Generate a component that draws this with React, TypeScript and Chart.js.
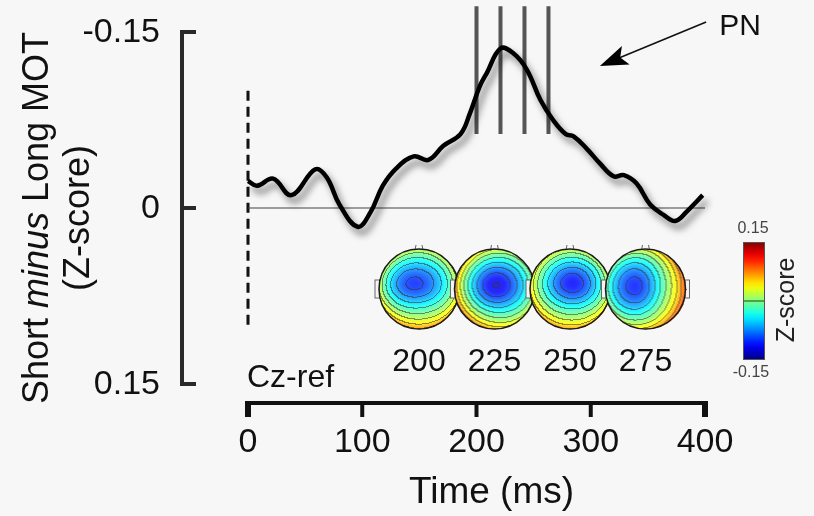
import { useEffect, useRef } from 'react';
import { Chart, registerables } from 'chart.js';

Chart.register(...registerables);

// Grand-average difference wave at Cz (Short minus Long MOT), z-scored
const timeMs = [0, 8, 22, 38, 59, 69, 80, 96, 107, 118, 130, 145, 158, 171, 186, 194, 203, 209, 221, 232, 244, 256, 267, 278, 285, 297, 308, 320, 329, 340, 352, 364, 374, 384, 398];
const zDiff = [-0.023, -0.019, -0.025, -0.011, -0.033, -0.026, -0.003, 0.016, 0.004, -0.019, -0.034, -0.044, -0.041, -0.053, -0.063, -0.08, -0.104, -0.115, -0.136, -0.132, -0.118, -0.092, -0.075, -0.063, -0.061, -0.05, -0.038, -0.027, -0.028, -0.021, -0.003, 0.006, 0.011, 0.003, -0.011];

// Latencies marked with vertical bars, and the span they cover
const markerTimes = [200, 221, 242, 263];
const markerSpan = [-0.172, -0.063];

// Stimulus onset (dashed) span
const onsetSpan = [-0.1, 0.1];

// Axis ticks
const xTicks = [0, 100, 200, 300, 400];
const yTicks = [-0.15, 0, 0.15];
const yTickLabels = ['-0.15', '0', '0.15'];

// Scalp maps at selected latencies: negative focus position, depth, spread, and gradient tilt
const mapLabels = ['200', '225', '250', '275'];
const focusU = [-0.12, -0.03, 0.04, -0.2];
const focusV = [-0.1, -0.08, -0.12, -0.06];
const focusDepth = [0.1, 0.12, 0.11, 0.095];
const spreadU = [0.58, 0.5, 0.5, 0.44];
const spreadV = [0.42, 0.44, 0.42, 0.48];
const tiltU = [0.0, -0.03, -0.005, 0.045];
const tiltV = [0.025, 0.015, 0.02, 0.01];

const colorbarMax = '0.15';
const colorbarMin = '-0.15';

const FONT = '"Liberation Sans", Arial, Helvetica, sans-serif';

function clamp01(v: number) {
  return Math.max(0, Math.min(1, v));
}

function jet(t: number): [number, number, number] {
  const r = clamp01(1.5 - Math.abs(4 * t - 3));
  const g = clamp01(1.5 - Math.abs(4 * t - 2));
  const b = clamp01(1.5 - Math.abs(4 * t - 1));
  return [Math.round(r * 255), Math.round(g * 255), Math.round(b * 255)];
}

function renderTopo(i: number, radius: number): HTMLCanvasElement {
  const D = radius * 2 + 1;
  const cv = document.createElement('canvas');
  cv.width = D;
  cv.height = D;
  const c = cv.getContext('2d')!;
  const img = c.createImageData(D, D);
  const levels = new Int32Array(D * D);
  const vals = new Float32Array(D * D);
  const inside = new Uint8Array(D * D);
  for (let py = 0; py < D; py++) {
    for (let px = 0; px < D; px++) {
      const u = (px - radius) / radius;
      const v = (py - radius) / radius;
      const r2 = u * u + v * v;
      const k = py * D + px;
      if (r2 > 1) continue;
      inside[k] = 1;
      const du = (u - focusU[i]) / spreadU[i];
      const dv = (v - focusV[i]) / spreadV[i];
      const f =
        0.0 + 0.055 * r2 * r2 + tiltU[i] * u + tiltV[i] * v -
        focusDepth[i] * Math.exp(-(du * du + dv * dv) / 2);
      vals[k] = f;
      levels[k] = Math.floor(f / 0.024);
    }
  }
  for (let py = 0; py < D; py++) {
    for (let px = 0; px < D; px++) {
      const k = py * D + px;
      if (!inside[k]) continue;
      const t = clamp01((vals[k] + 0.15) / 0.3);
      let [r, g, b] = jet(t);
      // pale, slightly washed rendering
      r = Math.round(r * 0.85 + 255 * 0.15);
      g = Math.round(g * 0.85 + 255 * 0.15);
      b = Math.round(b * 0.85 + 255 * 0.15);
      let edge = false;
      if (px + 1 < D && inside[k + 1] && levels[k + 1] !== levels[k]) edge = true;
      if (py + 1 < D && inside[k + D] && levels[k + D] !== levels[k]) edge = true;
      if (edge) {
        r = Math.round(r * 0.45 + 50 * 0.55);
        g = Math.round(g * 0.45 + 50 * 0.55);
        b = Math.round(b * 0.45 + 50 * 0.55);
      }
      img.data[k * 4] = r;
      img.data[k * 4 + 1] = g;
      img.data[k * 4 + 2] = b;
      img.data[k * 4 + 3] = 255;
    }
  }
  c.putImageData(img, 0, 0);
  return cv;
}

const decorPlugin = {
  id: 'decor',
  beforeDraw(chart: any) {
    const ctx = chart.ctx;
    ctx.save();
    ctx.fillStyle = '#f7f7f7';
    ctx.fillRect(0, 0, chart.width, chart.height);
    ctx.restore();
  },
  beforeDatasetDraw(chart: any, args: any) {
    if (args.index === 0) {
      const ctx = chart.ctx;
      ctx.save();
      ctx.shadowColor = 'rgba(0,0,0,0.5)';
      ctx.shadowBlur = 7;
      ctx.shadowOffsetX = 4;
      ctx.shadowOffsetY = 6;
    }
  },
  afterDatasetDraw(chart: any, args: any) {
    if (args.index === 0) chart.ctx.restore();
  },
  afterDraw(chart: any) {
    const ctx: CanvasRenderingContext2D = chart.ctx;
    const xs = chart.scales.x;
    const ys = chart.scales.y;
    const area = chart.chartArea;
    ctx.save();

    // ---- Y axis (bracket style, offset to the left)
    const yAxisX = area.left - 66;
    const yTop = ys.getPixelForValue(yTicks[0]);
    const yBot = ys.getPixelForValue(yTicks[yTicks.length - 1]);
    ctx.strokeStyle = '#2a2a2a';
    ctx.lineWidth = 4;
    ctx.lineCap = 'butt';
    ctx.beginPath();
    ctx.moveTo(yAxisX, yTop - 2);
    ctx.lineTo(yAxisX, yBot + 2);
    ctx.stroke();
    ctx.fillStyle = '#111';
    ctx.font = `34px ${FONT}`;
    ctx.textAlign = 'right';
    ctx.textBaseline = 'middle';
    yTicks.forEach((v, i) => {
      const py = ys.getPixelForValue(v);
      ctx.beginPath();
      ctx.moveTo(yAxisX - 2, py);
      ctx.lineTo(yAxisX + 14, py);
      ctx.stroke();
      ctx.fillText(yTickLabels[i], yAxisX - 22, py + 1);
    });

    // ---- Y title (rotated, "minus" in italics)
    ctx.save();
    ctx.translate(48, 218);
    ctx.rotate(-Math.PI / 2);
    ctx.textBaseline = 'alphabetic';
    ctx.textAlign = 'left';
    const parts: [string, string][] = [
      ['Short ', `36px ${FONT}`],
      ['minus', `italic 36px ${FONT}`],
      [' Long MOT', `36px ${FONT}`],
    ];
    let total = 0;
    parts.forEach(([t, f]) => {
      ctx.font = f;
      total += ctx.measureText(t).width;
    });
    let cx = -total / 2;
    parts.forEach(([t, f]) => {
      ctx.font = f;
      ctx.fillText(t, cx, 0);
      cx += ctx.measureText(t).width;
    });
    ctx.font = `36px ${FONT}`;
    ctx.textAlign = 'center';
    ctx.fillText('(Z-score)', 0, 41);
    ctx.restore();

    // ---- X axis (offset below)
    const xAxisY = area.bottom + 19;
    const x0 = xs.getPixelForValue(xTicks[0]);
    const x1 = xs.getPixelForValue(xTicks[xTicks.length - 1]);
    ctx.strokeStyle = '#111';
    ctx.lineWidth = 4;
    ctx.beginPath();
    ctx.moveTo(x0 - 3, xAxisY);
    ctx.lineTo(x1 + 3, xAxisY);
    ctx.stroke();
    ctx.font = `34px ${FONT}`;
    ctx.textAlign = 'center';
    ctx.textBaseline = 'middle';
    ctx.fillStyle = '#111';
    xTicks.forEach((v, i) => {
      const px = xs.getPixelForValue(v);
      const endTick = i === 0 || i === xTicks.length - 1;
      ctx.lineWidth = endTick ? 6 : 4;
      ctx.beginPath();
      ctx.moveTo(px, xAxisY - 2);
      ctx.lineTo(px, xAxisY + 14);
      ctx.stroke();
      ctx.fillText(String(v), px, xAxisY + 40);
    });
    ctx.font = `37px ${FONT}`;
    ctx.fillText('Time (ms)', (x0 + x1) / 2 + 15, xAxisY + 90);

    // ---- Reference label
    ctx.font = `32px ${FONT}`;
    ctx.textAlign = 'left';
    ctx.fillText('Cz-ref', x0 - 1, area.bottom - 6);

    // ---- PN arrow
    const tipX = xs.getPixelForValue(308);
    const tipY = ys.getPixelForValue(-0.121);
    const tailX = xs.getPixelForValue(401);
    const tailY = ys.getPixelForValue(-0.1586);
    const ang = Math.atan2(tipY - tailY, tipX - tailX);
    ctx.strokeStyle = '#111';
    ctx.lineWidth = 1.6;
    ctx.beginPath();
    ctx.moveTo(tailX, tailY);
    ctx.lineTo(tipX - Math.cos(ang) * 20, tipY - Math.sin(ang) * 20);
    ctx.stroke();
    const hl = 28;
    const hw = 10;
    const bx = tipX - Math.cos(ang) * hl;
    const by = tipY - Math.sin(ang) * hl;
    ctx.fillStyle = '#000';
    ctx.beginPath();
    ctx.moveTo(tipX, tipY);
    ctx.lineTo(bx + Math.sin(ang) * hw, by - Math.cos(ang) * hw);
    ctx.lineTo(bx + Math.cos(ang) * 6, by + Math.sin(ang) * 6);
    ctx.lineTo(bx - Math.sin(ang) * hw, by + Math.cos(ang) * hw);
    ctx.closePath();
    ctx.fill();
    ctx.font = `30px ${FONT}`;
    ctx.fillStyle = '#111';
    ctx.textAlign = 'left';
    ctx.textBaseline = 'middle';
    ctx.fillText('PN', tailX + 13, tailY + 5);

    // ---- Scalp maps
    const R = 40;
    const cy = 289;
    mapLabels.forEach((lab, i) => {
      const mx = 419 + i * 75.5;
      // ears
      ctx.fillStyle = '#f4f4f4';
      ctx.strokeStyle = '#666';
      ctx.lineWidth = 1;
      ctx.fillRect(mx - R - 4, cy - 9, 5, 18);
      ctx.strokeRect(mx - R - 4, cy - 9, 5, 18);
      ctx.fillRect(mx + R - 1, cy - 9, 5, 18);
      ctx.strokeRect(mx + R - 1, cy - 9, 5, 18);
      // nose
      ctx.beginPath();
      ctx.moveTo(mx - 4, cy - R + 1);
      ctx.lineTo(mx - 3, cy - R - 4);
      ctx.moveTo(mx + 4, cy - R + 1);
      ctx.lineTo(mx + 3, cy - R - 4);
      ctx.stroke();
      const topo = renderTopo(i, R);
      ctx.drawImage(topo, mx - R, cy - R);
      ctx.strokeStyle = '#1a1a1a';
      ctx.lineWidth = 1.5;
      ctx.beginPath();
      ctx.arc(mx, cy, R, 0, Math.PI * 2);
      ctx.stroke();
      ctx.fillStyle = '#111';
      ctx.font = `32px ${FONT}`;
      ctx.textAlign = 'center';
      ctx.textBaseline = 'middle';
      ctx.fillText(lab, mx, 362);
    });

    // ---- Colour bar
    const cbX = 743;
    const cbY = 242;
    const cbW = 22;
    const cbH = 118;
    const grad = ctx.createLinearGradient(0, cbY, 0, cbY + cbH);
    for (let s = 0; s <= 20; s++) {
      const t = 1 - s / 20;
      const [r, g, b] = jet(t);
      grad.addColorStop(s / 20, `rgb(${r},${g},${b})`);
    }
    ctx.fillStyle = grad;
    ctx.fillRect(cbX, cbY, cbW, cbH);
    ctx.strokeStyle = '#555';
    ctx.lineWidth = 1;
    ctx.strokeRect(cbX + 0.5, cbY + 0.5, cbW - 1, cbH - 1);
    ctx.strokeStyle = 'rgba(60,110,60,0.9)';
    ctx.lineWidth = 1.5;
    ctx.beginPath();
    ctx.moveTo(cbX, cbY + cbH / 2);
    ctx.lineTo(cbX + cbW, cbY + cbH / 2);
    ctx.stroke();
    ctx.fillStyle = '#444';
    ctx.font = `16px ${FONT}`;
    ctx.textAlign = 'center';
    ctx.textBaseline = 'middle';
    ctx.fillText(colorbarMax, cbX + cbW / 2 - 1, cbY - 13);
    ctx.fillText(colorbarMin, cbX + cbW / 2 - 3, cbY + cbH + 13);
    ctx.save();
    ctx.translate(787, cbY + cbH / 2 - 1);
    ctx.rotate(-Math.PI / 2);
    ctx.fillStyle = '#222';
    ctx.font = `25px ${FONT}`;
    ctx.fillText('Z-score', 0, 0);
    ctx.restore();

    ctx.restore();
  },
};

export default function App() {
  const canvasRef = useRef<HTMLCanvasElement | null>(null);

  useEffect(() => {
    const canvas = canvasRef.current;
    if (!canvas) return;
    const wave = timeMs.map((t, i) => ({ x: t, y: zDiff[i] }));
    const datasets: any[] = [
      {
        data: wave,
        borderColor: '#000',
        borderWidth: 4.5,
        pointRadius: 0,
        tension: 0.4,
        fill: false,
        clip: false,
      },
      {
        data: [
          { x: 0, y: 0 },
          { x: 400, y: 0 },
        ],
        borderColor: '#444',
        borderWidth: 1.2,
        pointRadius: 0,
        clip: false,
      },
      {
        data: [
          { x: 0, y: onsetSpan[0] },
          { x: 0, y: onsetSpan[1] },
        ],
        borderColor: '#111',
        borderWidth: 3,
        borderDash: [10, 6],
        pointRadius: 0,
        clip: false,
      },
      ...markerTimes.map((t) => ({
        data: [
          { x: t, y: markerSpan[0] },
          { x: t, y: markerSpan[1] },
        ],
        borderColor: '#555',
        borderWidth: 4,
        pointRadius: 0,
        clip: false,
      })),
    ];
    const chart = new Chart(canvas, {
      type: 'line',
      data: { datasets },
      options: {
        animation: false,
        responsive: false,
        events: [],
        layout: { padding: { left: 248, right: 109, top: 32, bottom: 132 } },
        plugins: { legend: { display: false }, tooltip: { enabled: false } },
        scales: {
          x: { type: 'linear', min: 0, max: 400, display: false },
          y: { type: 'linear', min: -0.15, max: 0.15, reverse: true, display: false },
        },
      },
      plugins: [decorPlugin],
    });
    return () => chart.destroy();
  }, []);

  return (
    <div style={{ position: 'fixed', left: 0, top: 0, width: 814, height: 516, background: '#f7f7f7' }}>
      <canvas ref={canvasRef} width={814} height={516} style={{ display: 'block', width: 814, height: 516 }} />
    </div>
  );
}
